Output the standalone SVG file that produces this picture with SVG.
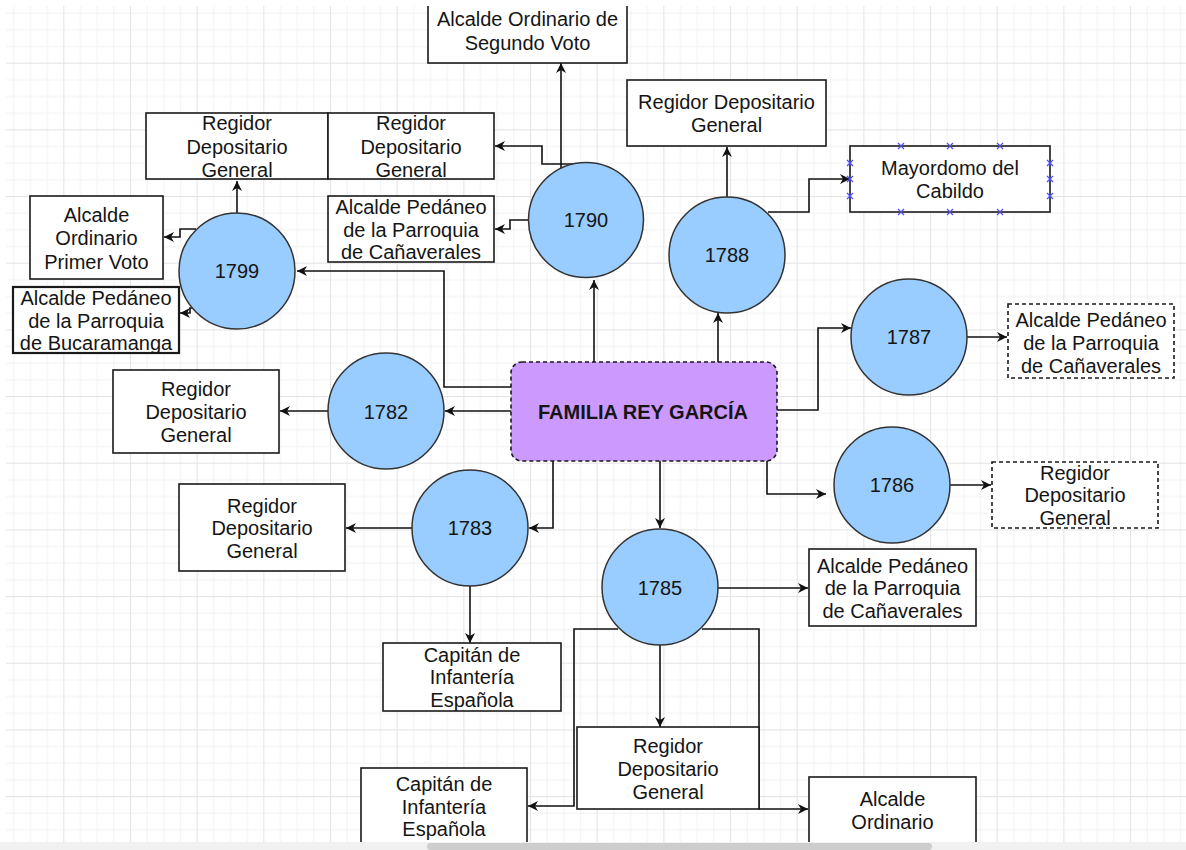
<svg xmlns="http://www.w3.org/2000/svg" width="1186" height="850" viewBox="0 0 1186 850">
  <defs>
    <style>
      text { font-family: "Liberation Sans", Arial, Helvetica, sans-serif; font-size: 20px; fill: #151515; text-anchor: middle; }
      .box { fill: #ffffff; stroke: #1a1a1a; stroke-width: 1.6; }
      .dashed { stroke-dasharray: 4 3; }
      .thick { stroke-width: 2.2; }
      .year circle { fill: #99ccff; stroke: #333333; stroke-width: 1.5; }
      .main rect { fill: #cc99ff; stroke: #1a1a1a; stroke-width: 1.6; stroke-dasharray: 4 3; }
      .main text { font-weight: bold; }
      #connectors path { fill: none; stroke: #111111; stroke-width: 1.6; marker-end: url(#arrow); }
      .handles path { fill: none; stroke: #5050ff; stroke-width: 1.3; }
    </style>
    <marker id="arrow" viewBox="0 -6 11 12" markerWidth="11" markerHeight="12" refX="10" refY="0" orient="auto" markerUnits="userSpaceOnUse">
      <path d="M0,-5 L10,0 L0,5 L3,0 Z" fill="#111111" stroke="none"/>
    </marker>
    <pattern id="grid" patternUnits="userSpaceOnUse" x="-3.33" y="-3.97" width="66.67" height="66.67">
      <rect x="0" y="0" width="66.67" height="66.67" fill="#ffffff"/>
      <rect x="16.67" y="0" width="1" height="66.67" fill="#f2f2f2"/>
      <rect x="33.33" y="0" width="1" height="66.67" fill="#f2f2f2"/>
      <rect x="50" y="0" width="1" height="66.67" fill="#f2f2f2"/>
      <rect x="0" y="16.67" width="66.67" height="1" fill="#f2f2f2"/>
      <rect x="0" y="33.33" width="66.67" height="1" fill="#f2f2f2"/>
      <rect x="0" y="50" width="66.67" height="1" fill="#f2f2f2"/>
      <rect x="0" y="0" width="1" height="66.67" fill="#e3e3e3"/>
      <rect x="0" y="0" width="66.67" height="1" fill="#e3e3e3"/>
    </pattern>
    <clipPath id="canvas">
      <rect x="6" y="6" width="1180" height="836"/>
    </clipPath>
  </defs>

  <!-- page background and grid -->
  <rect x="0" y="0" width="1186" height="850" fill="#ffffff"/>
  <rect x="6" y="6" width="1180" height="836" fill="url(#grid)"/>

  <g clip-path="url(#canvas)">
    <!-- edges -->
    <g id="connectors">
      <path d="M594,362 V280"/>
      <path d="M718,362 V313"/>
      <path d="M511,387 H444 V271 H297"/>
      <path d="M511,411 H445"/>
      <path d="M553,461 V528 H529"/>
      <path d="M660,461 V528"/>
      <path d="M767,461 V494 H826"/>
      <path d="M777,410 H818 V328 H851"/>
      <path d="M237,213 V181"/>
      <path d="M196,229 H180 V237 H164"/>
      <path d="M196,308 H190 V313 H180"/>
      <path d="M561,169 V63"/>
      <path d="M573,164 H542 V146 H495"/>
      <path d="M528,220 H510 V229 H495"/>
      <path d="M727,197 V147"/>
      <path d="M768,212 H809 V179 H850"/>
      <path d="M967,337 H1007"/>
      <path d="M950,485 H991"/>
      <path d="M328,411 H280"/>
      <path d="M412,528 H346"/>
      <path d="M470,586 V643"/>
      <path d="M718,588 H808"/>
      <path d="M660,645 V727"/>
      <path d="M618,629 H574 V806 H528"/>
      <path d="M702,629 H759 V809 H808"/>
    </g>

    <!-- central family node -->
    <g id="familia" class="main">
      <rect x="511" y="362" width="266" height="99" rx="11" ry="11"/>
      <text x="643" y="419">FAMILIA REY GARCÍA</text>
    </g>

    <!-- year nodes -->
    <g id="y1799" class="year"><circle cx="237" cy="271" r="58"/><text x="237" y="278">1799</text></g>
    <g id="y1790" class="year"><circle cx="586" cy="220" r="57.5"/><text x="586" y="227">1790</text></g>
    <g id="y1788" class="year"><circle cx="727" cy="255" r="58"/><text x="727" y="262">1788</text></g>
    <g id="y1787" class="year"><circle cx="909" cy="337" r="58"/><text x="909" y="344">1787</text></g>
    <g id="y1786" class="year"><circle cx="892" cy="485" r="58"/><text x="892" y="492">1786</text></g>
    <g id="y1782" class="year"><circle cx="386" cy="411" r="58"/><text x="386" y="419">1782</text></g>
    <g id="y1783" class="year"><circle cx="470" cy="528" r="58"/><text x="470" y="535">1783</text></g>
    <g id="y1785" class="year"><circle cx="660" cy="587" r="58"/><text x="660" y="595">1785</text></g>

    <!-- office nodes -->
    <g id="segundo-voto-1790">
      <rect class="box" x="428" y="-3" width="199" height="66"/>
      <text x="527.5" y="25.5">Alcalde Ordinario de</text>
      <text x="527.5" y="49.5">Segundo Voto</text>
    </g>
    <g id="regidor-1788">
      <rect class="box" x="627" y="80" width="199" height="66"/>
      <text x="726.5" y="109">Regidor Depositario</text>
      <text x="726.5" y="132">General</text>
    </g>
    <g id="mayordomo-1788">
      <rect class="box" x="850" y="146" width="200" height="66"/>
      <text x="950" y="175">Mayordomo del</text>
      <text x="950" y="198">Cabildo</text>
      <g class="handles">
        <path d="M898,143 l6,6 m0,-6 l-6,6 M947,143 l6,6 m0,-6 l-6,6 M997,143 l6,6 m0,-6 l-6,6"/>
        <path d="M898,209 l6,6 m0,-6 l-6,6 M947,209 l6,6 m0,-6 l-6,6 M997,209 l6,6 m0,-6 l-6,6"/>
        <path d="M847,160 l6,6 m0,-6 l-6,6 M847,176 l6,6 m0,-6 l-6,6 M847,193 l6,6 m0,-6 l-6,6"/>
        <path d="M1047,160 l6,6 m0,-6 l-6,6 M1047,176 l6,6 m0,-6 l-6,6 M1047,193 l6,6 m0,-6 l-6,6"/>
      </g>
    </g>
    <g id="regidor-1799">
      <rect class="box" x="146" y="113" width="182" height="66"/>
      <text x="237" y="130">Regidor</text>
      <text x="237" y="154">Depositario</text>
      <text x="237" y="177">General</text>
    </g>
    <g id="regidor-1790">
      <rect class="box" x="328" y="113" width="166" height="66"/>
      <text x="411" y="130">Regidor</text>
      <text x="411" y="154">Depositario</text>
      <text x="411" y="177">General</text>
    </g>
    <g id="pedaneo-1790">
      <rect class="box" x="328" y="196" width="166" height="66"/>
      <text x="411" y="214">Alcalde Pedáneo</text>
      <text x="411" y="237">de la Parroquia</text>
      <text x="411" y="259">de Cañaverales</text>
    </g>
    <g id="primer-voto-1799">
      <rect class="box" x="30" y="196" width="133" height="83"/>
      <text x="96.5" y="222">Alcalde</text>
      <text x="96.5" y="245">Ordinario</text>
      <text x="96.5" y="269">Primer Voto</text>
    </g>
    <g id="bucaramanga-1799">
      <rect class="box thick" x="13" y="287" width="166" height="66"/>
      <text x="96" y="305">Alcalde Pedáneo</text>
      <text x="96" y="328">de la Parroquia</text>
      <text x="96" y="350">de Bucaramanga</text>
    </g>
    <g id="regidor-1782">
      <rect class="box" x="113" y="370" width="166" height="83"/>
      <text x="196" y="396">Regidor</text>
      <text x="196" y="419">Depositario</text>
      <text x="196" y="442">General</text>
    </g>
    <g id="regidor-1783">
      <rect class="box" x="179" y="484" width="166" height="87"/>
      <text x="262" y="513">Regidor</text>
      <text x="262" y="535">Depositario</text>
      <text x="262" y="558">General</text>
    </g>
    <g id="capitan-1783">
      <rect class="box" x="383" y="643" width="178" height="68"/>
      <text x="472" y="662">Capitán de</text>
      <text x="472" y="684">Infantería</text>
      <text x="472" y="707">Española</text>
    </g>
    <g id="regidor-1785">
      <rect class="box" x="577" y="727" width="182" height="82"/>
      <text x="668" y="753">Regidor</text>
      <text x="668" y="776">Depositario</text>
      <text x="668" y="799">General</text>
    </g>
    <g id="capitan-1785">
      <rect class="box" x="361" y="768" width="166" height="90"/>
      <text x="444" y="791">Capitán de</text>
      <text x="444" y="814">Infantería</text>
      <text x="444" y="836">Española</text>
    </g>
    <g id="alcalde-ordinario-1785">
      <rect class="box" x="809" y="777" width="167" height="80"/>
      <text x="892.5" y="806">Alcalde</text>
      <text x="892.5" y="829">Ordinario</text>
    </g>
    <g id="pedaneo-1785">
      <rect class="box" x="809" y="549" width="167" height="77"/>
      <text x="892.5" y="573">Alcalde Pedáneo</text>
      <text x="892.5" y="595">de la Parroquia</text>
      <text x="892.5" y="618">de Cañaverales</text>
    </g>
    <g id="pedaneo-1787">
      <rect class="box dashed" x="1008" y="304" width="166" height="74"/>
      <text x="1091" y="327">Alcalde Pedáneo</text>
      <text x="1091" y="350">de la Parroquia</text>
      <text x="1091" y="373">de Cañaverales</text>
    </g>
    <g id="regidor-1786">
      <rect class="box dashed" x="992" y="462" width="166" height="66"/>
      <text x="1075" y="480">Regidor</text>
      <text x="1075" y="502">Depositario</text>
      <text x="1075" y="525">General</text>
    </g>
  </g>

  <!-- horizontal scrollbar -->
  <rect x="0" y="842" width="1186" height="8" fill="#f1f1f1"/>
  <rect x="427" y="843" width="505" height="7" rx="3.5" fill="#cdcdcd"/>
</svg>
